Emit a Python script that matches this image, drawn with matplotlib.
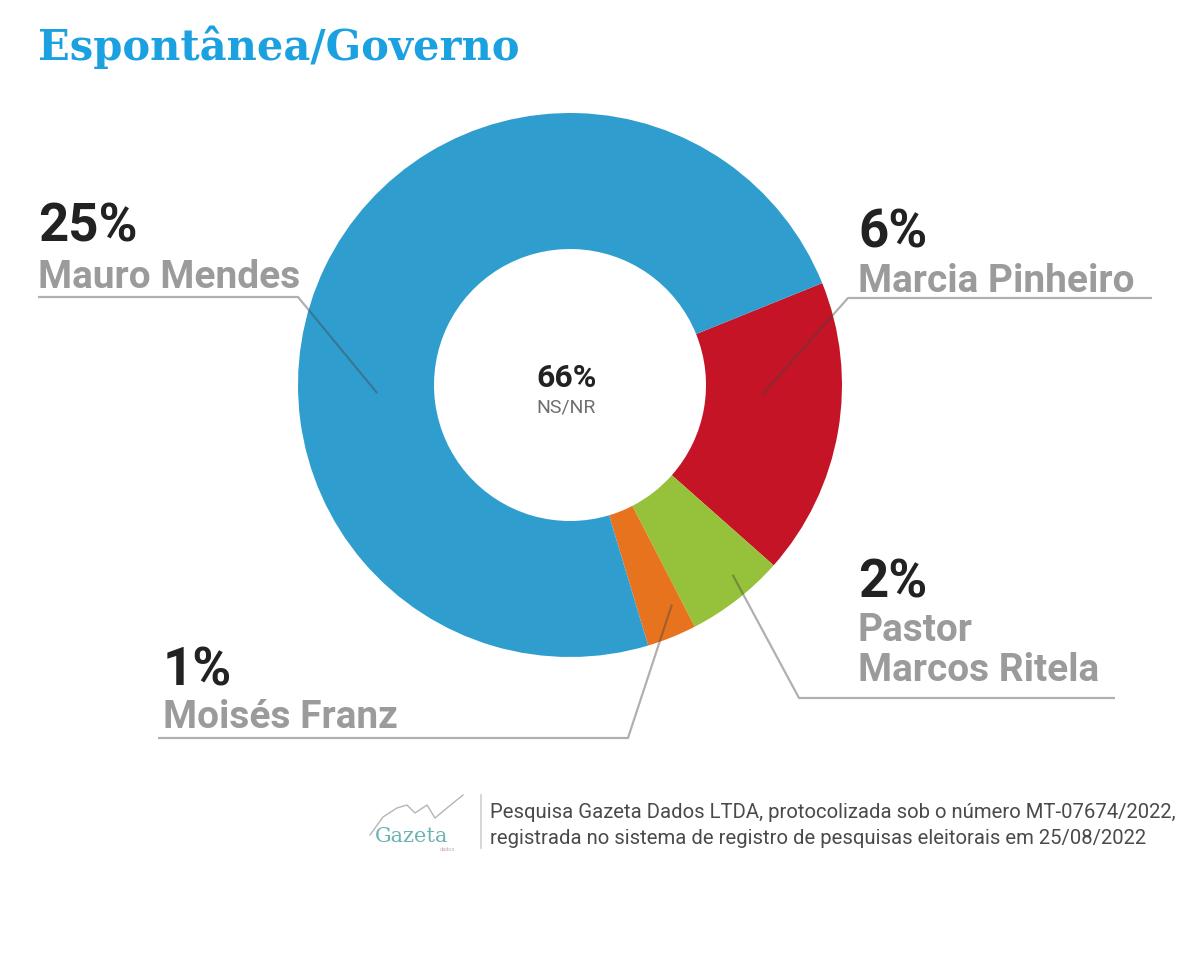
import numpy as np
import matplotlib.pyplot as plt

plt.rcParams['font.family'] = ['Roboto', 'DejaVu Sans']

# --- dados da pesquisa espontânea ---
nomes = ['Marcia Pinheiro', 'Pastor\nMarcos Ritela', 'Moisés Franz', 'Mauro Mendes']
valores = [6, 2, 1, 25]
cores = ['#c41426', '#95c13b', '#e8731f', '#2f9ecf']
ns_nr = 66
titulo = 'Espontânea/Governo'
fonte = ['Pesquisa Gazeta Dados LTDA, protocolizada sob o número MT-07674/2022,',
         'registrada no sistema de registro de pesquisas eleitorais em 25/08/2022']

W, H = 1200, 972
def fy(y):
    # coordenadas em pixels medidas a partir do topo
    return H - y

cx, cy, R, r = 570, 385, 272, 136

# posição dos rótulos (pixels, topo da imagem); nome_base = linha de base da última linha
lab_x = [858, 858, 163, 38]
pct_base = [248, 597, 685, 241]
nome_base = [292, 681, 728, 288]
sub_y = [298, 698, 738, 297]
dobra_x = [848, 799, 628, 298]
fim_x = [1152, 1115, 158, 38]
ang_lider = [-3.0, -49.4, -65.1, 182.4]
raio_lider = [192, 250, 242, 193]

fig = plt.figure(figsize=(12, 9.72), dpi=100)
ax = fig.add_axes([0, 0, 1, 1])

ax.pie(valores, colors=cores, startangle=22, counterclock=False,
       radius=R, center=(cx, fy(cy)),
       wedgeprops=dict(width=R - r, edgecolor='none', linewidth=0))

ax.set_xlim(0, W); ax.set_ylim(0, H)
ax.set_aspect('equal')
ax.axis('off')

# texto central
ax.text(567, fy(387), f'{ns_nr}%', fontsize=23, fontweight='bold', color='#222222',
        ha='center', va='baseline')
ax.text(566, fy(412), 'NS/NR', fontsize=14, color='#6f6f6f', ha='center', va='baseline')

# rótulos com linhas de chamada
for i in range(len(valores)):
    ax.text(lab_x[i], fy(pct_base[i]), f'{valores[i]}%', fontsize=38, fontweight='bold',
            color='#222222', ha='left', va='baseline')
    ax.text(lab_x[i], fy(nome_base[i]), nomes[i], fontsize=28, fontweight='bold',
            color='#9b9b9b', ha='left', va='baseline', linespacing=1.12)
    a = np.deg2rad(ang_lider[i])
    ex = cx + raio_lider[i] * np.cos(a)
    ey = fy(cy) + raio_lider[i] * np.sin(a)
    ax.plot([ex, dobra_x[i], fim_x[i]], [ey, fy(sub_y[i]), fy(sub_y[i])],
            color='#444444', alpha=0.42, lw=1.6, solid_capstyle='butt')

# título
ax.text(38, fy(60), titulo, fontsize=30, fontweight='bold', color='#1ba1e0',
        family='DejaVu Serif', ha='left', va='baseline')

# rodapé: logo + fonte
lx = [370, 383, 397, 407, 415, 427, 435, 447, 463]
ly = [835, 817, 808, 805, 813, 805, 818, 808, 795]
ax.plot(lx, [fy(v) for v in ly], color='#b5b5b5', lw=1.0)
ax.text(375, fy(842), 'Gazeta', fontsize=15, color='#6db3b3', family='DejaVu Serif',
        ha='left', va='baseline')
ax.text(440, fy(851), 'dados', fontsize=4, color='#c9a9b4', ha='left', va='baseline')
ax.plot([481, 481], [fy(795), fy(848)], color='#cfcfcf', lw=1.2)
ax.text(490, fy(818), fonte[0], fontsize=14.6, color='#4a4a4a', ha='left', va='baseline')
ax.text(490, fy(844), fonte[1], fontsize=14.6, color='#4a4a4a', ha='left', va='baseline')

fig.savefig('out.png', dpi=100, facecolor='white')
